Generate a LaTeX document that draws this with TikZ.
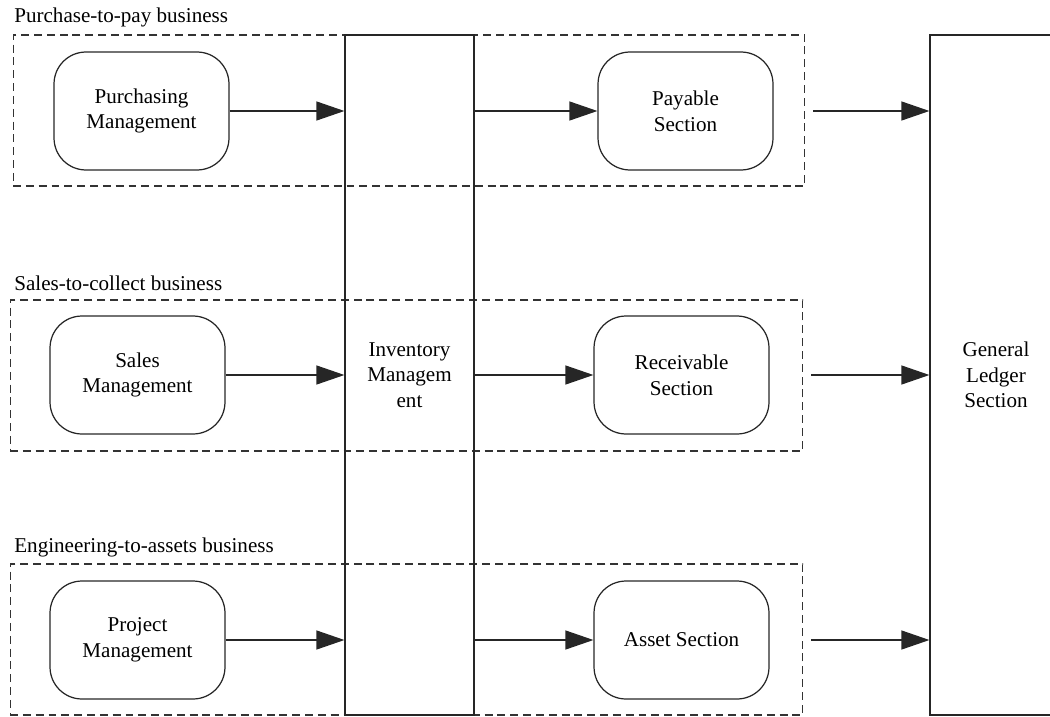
\documentclass[tikz,border=0pt]{standalone}
\usepackage{fontspec}
\setmainfont{Liberation Serif}
\usetikzlibrary{arrows.meta,calc,positioning}
\tikzset{unit/.style={draw=black!85,line width=0.7pt,rounded corners=0.64cm,align=center,minimum width=3.5cm,
    minimum height=2.36cm,inner sep=2pt,font=\fontsize{12}{14.6}\selectfont},
  column/.style={draw=black!85,line width=0.7pt,align=center,minimum height=13.6cm,inner sep=2pt,font=\fontsize{12}{14.6}\selectfont},
  group/.style={draw=black!80,line width=0.6pt,dash pattern=on 4.5pt off 2.8pt,minimum height=3.02cm,inner sep=0pt},
  grouplabel/.style={anchor=base west,inner sep=0pt,font=\fontsize{12}{14.6}\selectfont},
  arr/.style={-{Triangle[length=5.6mm,width=3.8mm]},draw=black!85,line width=0.7pt}}
\begin{document}
\begin{tikzpicture}[x=0.02cm,y=-0.02cm]
\useasboundingbox (0,0) rectangle (1050,716);
% business groups
\node[group,minimum width=15.84cm] (p2p) at (409,110.5) {};
\node[group,minimum width=15.86cm] (s2c) at (406.5,375.5) {};
\node[group,minimum width=15.86cm] (e2a) at (406.5,639.5) {};
\node[grouplabel] (p2plbl) at (14,23) {Purchase-to-pay business};
\node[grouplabel] (s2clbl) at (14,290) {Sales-to-collect business};
\node[grouplabel] (e2albl) at (14,552) {Engineering-to-assets business};
% columns
\node[column,minimum width=2.58cm] (inv) at (409.5,375) {Inventory\\Managem\\ent};
\node[column,minimum width=2.64cm] (gl) at (996,375) {General\\Ledger\\Section};
% units
\node[unit] (purch) at (141.5,111) {Purchasing\\Management};
\node[unit] (pay) at (685.5,111) {Payable\\Section};
\node[unit] (sales) at (137.5,375) {Sales\\Management};
\node[unit] (recv) at (681.5,375) {Receivable\\Section};
\node[unit] (proj) at (137.5,640) {Project\\Management};
\node[unit] (asset) at (681.5,640) {Asset Section};
% flows
\foreach \src/\dst/\grp in {purch/pay/p2p,sales/recv/s2c,proj/asset/e2a}{
  \draw[arr] (\src.east) -- (\src.east -| inv.west);
  \draw[arr] (\dst.west -| inv.east) -- (\dst.west);
  \draw[arr] ($(\dst.east -| \grp.east)+(8,0)$) -- (\dst.east -| gl.west);
}
\end{tikzpicture}
\end{document}
